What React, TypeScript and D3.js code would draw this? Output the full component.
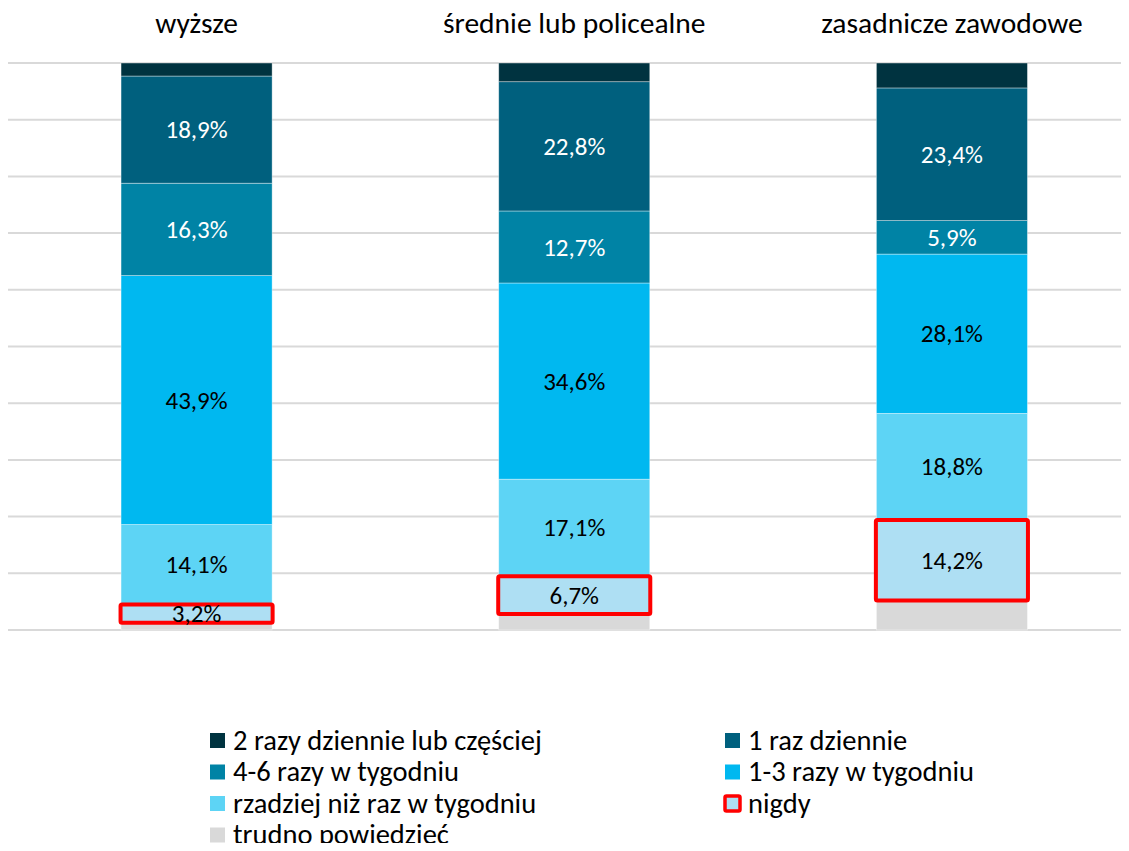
import React from "react";
import * as d3 from "d3";

const categories = ["wyższe", "średnie lub policealne", "zasadnicze zawodowe"];
const seriesNames = [
  "trudno powiedzieć",
  "nigdy",
  "rzadziej niż raz w tygodniu",
  "1-3 razy w tygodniu",
  "4-6 razy w tygodniu",
  "1 raz dziennie",
  "2 razy dziennie lub częściej",
];
const trudno = [1.3, 2.8, 5.2];
const nigdy = [3.2, 6.7, 14.2];
const rzadziej = [14.1, 17.1, 18.8];
const razy13 = [43.9, 34.6, 28.1];
const razy46 = [16.3, 12.7, 5.9];
const raz1 = [18.9, 22.8, 23.4];
const razy2 = [2.3, 3.3, 4.4];
const seriesValues = [trudno, nigdy, rzadziej, razy13, razy46, raz1, razy2];
const colors = ["#D9D9D9", "#AEDFF3", "#5DD4F5", "#00B8F0", "#0083A5", "#00607E", "#003340"];
const labelColors = [null, "#000", "#000", "#000", "#fff", "#fff", null];
const yTicks = [0, 10, 20, 30, 40, 50, 60, 70, 80, 90, 100];

const legendOrder = [
  "2 razy dziennie lub częściej",
  "1 raz dziennie",
  "4-6 razy w tygodniu",
  "1-3 razy w tygodniu",
  "rzadziej niż raz w tygodniu",
  "nigdy",
  "trudno powiedzieć",
];

const FONT = "Carlito, Calibri, 'Open Sans', 'Noto Sans', sans-serif";

export default function App() {
  const W = 1129, H = 851;
  const x = d3.scaleBand().domain(categories).range([7.75, 1140.75]).paddingInner(0.6).paddingOuter(0.3);
  const y = d3.scaleLinear().domain([0, 100]).range([630, 63]);
  const fmt = (v: number) => v.toFixed(1).replace(".", ",") + "%";

  const stackData = categories.map((c, i) => {
    const o: any = { cat: c };
    seriesNames.forEach((s, j) => (o[s] = seriesValues[j][i]));
    return o;
  });
  const stacked = d3.stack<any>().keys(seriesNames)(stackData);

  return (
    <div style={{ margin: -8, height: H, overflow: "hidden" }}>
      <svg width={W} height={H} style={{ display: "block" }} fontFamily={FONT}>
        <rect width={W} height={H} fill="#fff" />
        {yTicks.map((t) => (
          <line key={t} x1={8} x2={1129} y1={y(t)} y2={y(t)} stroke="#D9D9D9" strokeWidth={2} />
        ))}
        {categories.map((c) => (
          <text key={c} x={x(c)! + x.bandwidth() / 2} y={33} textAnchor="middle" fontSize={29.5} fill="#000">
            {c}
          </text>
        ))}
        {stacked.map((layer, j) => (
          <g key={layer.key}>
            {layer.map((d, i) => (
              <rect
                key={i}
                x={x(categories[i])}
                y={y(d[1])}
                width={x.bandwidth()}
                height={y(d[0]) - y(d[1])}
                fill={colors[j]}
                stroke="#fff"
                strokeOpacity={0.5}
                strokeWidth={0.75}
              />
            ))}
          </g>
        ))}
        {stacked[1].map((d, i) => (
          <rect
            key={"red" + i}
            x={x(categories[i])! - 0.5}
            y={y(d[1])}
            width={x.bandwidth() + 1}
            height={y(d[0]) - y(d[1])}
            fill="none"
            stroke="#FF0000"
            strokeWidth={4}
            rx={1.5}
          />
        ))}
        {stacked.map((layer, j) =>
          labelColors[j]
            ? layer.map((d, i) => (
                <text
                  key={layer.key + i}
                  x={x(categories[i])! + x.bandwidth() / 2}
                  y={(y(d[0]) + y(d[1])) / 2}
                  dy="0.35em"
                  textAnchor="middle"
                  fontSize={25}
                  fill={labelColors[j]!}
                >
                  {fmt(seriesValues[j][i])}
                </text>
              ))
            : null
        )}
        {legendOrder.map((name, k) => {
          const col = k % 2;
          const row = Math.floor(k / 2);
          const lx = col === 0 ? 210 : 725;
          const ly = 741 + row * 31.5;
          const idx = seriesNames.indexOf(name);
          const isNigdy = name === "nigdy";
          return (
            <g key={name}>
              <rect
                x={lx}
                y={ly - 8}
                width={15}
                height={15}
                fill={colors[idx]}
                stroke={isNigdy ? "#FF0000" : "none"}
                strokeWidth={isNigdy ? 3.5 : 0}
                rx={isNigdy ? 1.5 : 0}
              />
              <text x={lx + 23} y={ly + 8.5} fontSize={28.5} fill="#000">
                {name}
              </text>
            </g>
          );
        })}
      </svg>
    </div>
  );
}
